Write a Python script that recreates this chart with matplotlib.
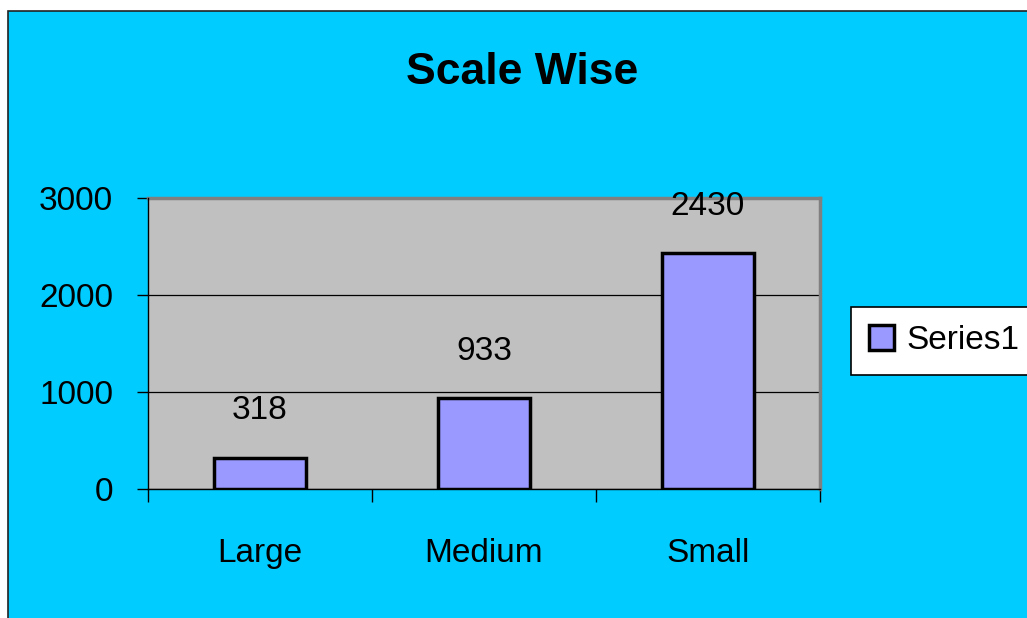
import matplotlib.pyplot as plt
from matplotlib.patches import Rectangle

plt.switch_backend('agg')

categories = ['Large', 'Medium', 'Small']
values = [318, 933, 2430]
series_name = 'Series1'
title = 'Scale Wise'
y_ticks = [0, 1000, 2000, 3000]

plt.rcParams['font.family'] = ['Liberation Sans Narrow', 'Liberation Sans', 'DejaVu Sans']
FS = 24

W, H = 1027, 618
fig = plt.figure(figsize=(W / 100, H / 100), dpi=100)
fig.patch.set_facecolor('white')

# cyan chart area with a thin dark frame
fig.patches.append(Rectangle((8 / W, -0.01), 1.1, 1 - 11 / H + 0.01,
                             transform=fig.transFigure, facecolor='#00CCFF',
                             edgecolor='#222222', linewidth=1.2, zorder=-5))

ax = fig.add_axes([148 / W, 1 - 489 / H, 672 / W, 291 / H])
ax.set_facecolor('#C0C0C0')

x = list(range(len(categories)))
bars = ax.bar(x, values, width=0.41, color='#9999FF', edgecolor='black',
              linewidth=2.5, zorder=3, label=series_name)

for xi, v in zip(x, values):
    ax.annotate(str(v), (xi, v), xytext=(0, 34), textcoords='offset points',
                ha='center', va='center', fontsize=FS, zorder=4,
                annotation_clip=False)

ax.set_xlim(-0.5, len(categories) - 0.5)
ax.set_ylim(0, 3000)
ax.set_yticks(y_ticks)
ax.set_yticklabels([str(t) for t in y_ticks])
ax.tick_params(axis='y', which='major', direction='out', length=8, width=1,
               pad=17, labelsize=FS)

# ticks between categories, labels centred under each bar
ax.set_xticks([i - 0.5 for i in range(len(categories) + 1)])
ax.set_xticklabels([])
ax.set_xticks(x, minor=True)
ax.set_xticklabels(categories, minor=True)
ax.tick_params(axis='x', which='major', direction='out', length=9, width=1)
ax.tick_params(axis='x', which='minor', length=0, pad=35, labelsize=FS)

ax.grid(axis='y', color='black', linewidth=0.9, zorder=1)
ax.set_axisbelow(True)

for s in ['top', 'right']:
    ax.spines[s].set_color('#808080')
    ax.spines[s].set_linewidth(2.5)
for s in ['left', 'bottom']:
    ax.spines[s].set_color('black')
    ax.spines[s].set_linewidth(1)
    ax.spines[s].set_zorder(5)

fig.text(522 / W, 1 - 73 / H, title, ha='center', va='center',
         fontsize=32, fontweight='bold')

leg = fig.legend(handles=[bars], labels=[series_name], loc='upper left',
                 bbox_to_anchor=(851 / W, 1 - 307 / H), borderaxespad=0,
                 fancybox=False, framealpha=1, edgecolor='black', fontsize=FS,
                 handlelength=0.75, handleheight=0.75, handletextpad=0.35,
                 borderpad=0.55)
leg.get_frame().set_linewidth(1.2)

fig.savefig('out.png', dpi=100, facecolor=fig.get_facecolor())
